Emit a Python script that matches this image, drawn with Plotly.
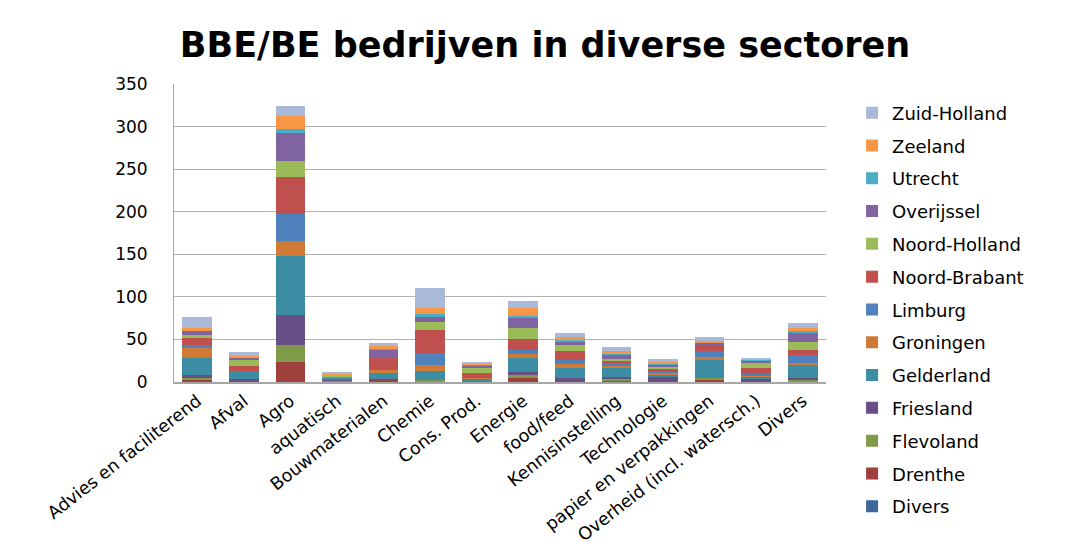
import plotly.graph_objects as go

# Sectors on the category axis
categories = [
    "Advies en faciliterend", "Afval", "Agro", "aquatisch", "Bouwmaterialen",
    "Chemie", "Cons. Prod.", "Energie", "food/feed", "Kennisinstelling",
    "Technologie", "papier en verpakkingen", "Overheid (incl. watersch.)", "Divers",
]

# Number of companies per province, one value per sector (stacked bottom to top)
divers        = [0, 1, 0, 0, 0, 0, 0, 0, 0, 0, 0, 0, 0, 0]
drenthe       = [2, 0, 24, 1, 3, 1, 0, 5, 0, 1, 0, 3, 0, 0]
flevoland     = [3, 0, 19, 1, 0, 1, 0, 3, 0, 3, 0, 2, 0, 2]
friesland     = [3, 3, 36, 1, 1, 0, 0, 4, 5, 2, 6, 0, 4, 3]
gelderland    = [20, 8, 69, 2, 7, 11, 4, 16, 12, 11, 2, 22, 3, 15]
groningen     = [12, 0, 18, 1, 3, 7, 1, 5, 4, 2, 3, 2, 1, 2]
limburg       = [3, 1, 31, 0, 0, 14, 0, 5, 5, 3, 1, 8, 1, 10]
noord_brabant = [9, 6, 44, 1, 14, 27, 5, 13, 11, 3, 4, 6, 8, 6]
noord_holland = [3, 8, 18, 1, 0, 9, 7, 12, 7, 2, 2, 0, 5, 9]
overijssel    = [5, 2, 34, 0, 10, 6, 2, 13, 3, 5, 3, 3, 3, 10]
utrecht       = [1, 0, 4, 0, 1, 4, 1, 2, 2, 1, 1, 0, 1, 3]
zeeland       = [2, 1, 16, 2, 3, 7, 1, 9, 4, 4, 2, 2, 1, 3]
zuid_holland  = [13, 5, 11, 1, 4, 23, 3, 8, 5, 4, 3, 5, 1, 6]

series = [
    ("Divers", divers, "#3D6899"),
    ("Drenthe", drenthe, "#A0403D"),
    ("Flevoland", flevoland, "#7F9A48"),
    ("Friesland", friesland, "#674F86"),
    ("Gelderland", gelderland, "#3C8DA3"),
    ("Groningen", groningen, "#D07A38"),
    ("Limburg", limburg, "#4F81BD"),
    ("Noord-Brabant", noord_brabant, "#C0504D"),
    ("Noord-Holland", noord_holland, "#9BBB59"),
    ("Overijssel", overijssel, "#8064A2"),
    ("Utrecht", utrecht, "#4BACC6"),
    ("Zeeland", zeeland, "#F79646"),
    ("Zuid-Holland", zuid_holland, "#A8B9DA"),
]

FONT = "DejaVu Sans"

fig = go.Figure()
n = len(series)
for i, (name, values, color) in enumerate(series):
    fig.add_trace(go.Bar(
        x=categories, y=values, name=name, legendgroup=name,
        legendrank=n - i,  # top of the stack listed first
        marker=dict(color=color, line=dict(width=0)),
    ))

W, H = 1073, 550
L, R, T, B = 174, 247, 83.5, 167.7

fig.update_layout(
    width=W, height=H,
    barmode="stack", bargap=0.36,
    paper_bgcolor="white", plot_bgcolor="white",
    margin=dict(l=L, r=R, t=T, b=B, autoexpand=False),
    font=dict(family=FONT, color="black"),
    title=dict(
        text="<b>BBE/BE bedrijven in diverse sectoren</b>",
        x=545 / W, xanchor="center", y=1 - 45 / H, yanchor="middle",
        font=dict(family=FONT, size=35, color="black"),
    ),
    legend=dict(
        x=1.04, xanchor="left", y=1 - (94 - T) / (H - T - B), yanchor="top",
        traceorder="grouped", tracegroupgap=6.4, maxheight=520,
        font=dict(family=FONT, size=18, color="black"),
        bgcolor="rgba(0,0,0,0)",
    ),
    showlegend=True,
)

fig.update_yaxes(
    range=[0, 350], dtick=50, tick0=0,
    showgrid=True, gridcolor="#B3B3B3", gridwidth=1,
    showline=True, linecolor="#A6A6A6", linewidth=1,
    ticks="", ticklabelstandoff=22,
    tickfont=dict(family=FONT, size=17, color="black"),
    zeroline=False, automargin=False,
)
fig.update_xaxes(
    showline=True, linecolor="#A6A6A6", linewidth=2,
    tickangle=-38, ticks="",
    tickfont=dict(family=FONT, size=17.5, color="black"),
    automargin=False,
)

fig.write_html("out.html")
